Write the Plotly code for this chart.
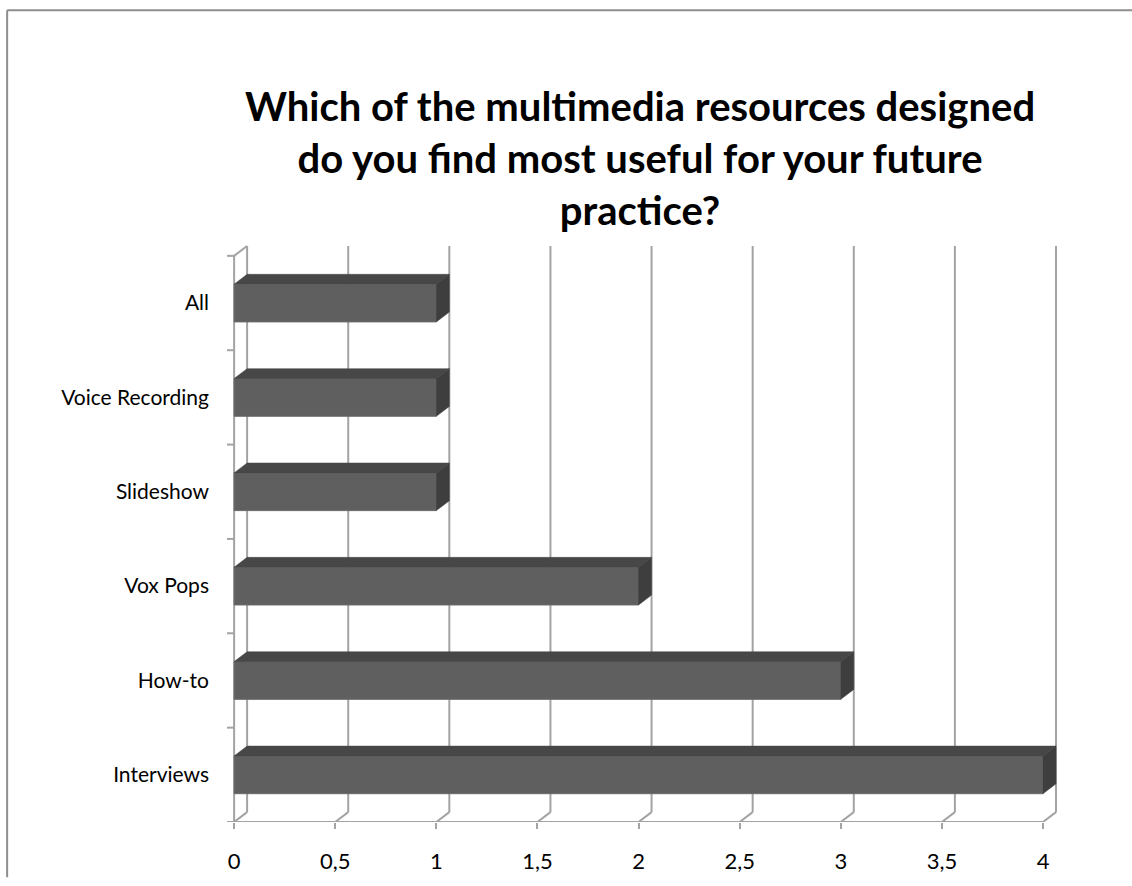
import plotly.graph_objects as go

# Survey responses
categories = ["Interviews", "How-to", "Vox Pops", "Slideshow", "Voice Recording", "All"]
counts = [4, 3, 2, 1, 1, 1]
x_ticks = [0, 0.5, 1, 1.5, 2, 2.5, 3, 3.5, 4]
x_tick_labels = ["0", "0,5", "1", "1,5", "2", "2,5", "3", "3,5", "4"]
title_text = ("Which of the multimedia resources designed<br>"
              "do you find most useful for your future<br>practice?")

# Plot geometry (pixels) and the oblique depth used for the pseudo-3D look
W, H = 1132, 886
PX_PER_X = 202.25
X_MIN = -0.05
L = 234 + X_MIN * PX_PER_X
R = 1062
B = 830
T = 240
y_min = -0.5
y_max = 5.668
PX_PER_Y = (B - T) / (y_max - y_min)
x_max = (R - 234) / PX_PER_X
DX = 13 / PX_PER_X
DY = 10 / PX_PER_Y
BAR_W = 0.4

GRID = "#a3a3a3"
FRONT = "#5f5f5f"
TOP = "#474747"
SIDE = "#3e3e3e"
FONT = "Lato"

ypos = list(range(len(categories)))
n = len(categories)

fig = go.Figure()

# Front faces of the bars
fig.add_trace(go.Bar(
    x=counts, y=ypos, orientation="h", width=BAR_W, base=0,
    marker=dict(color=FRONT, line=dict(color="#6a6a6a", width=1)),
    hoverinfo="skip", showlegend=False,
))

# Top and side faces of each bar
for yc, v in zip(ypos, counts):
    y0, y1 = yc - BAR_W / 2, yc + BAR_W / 2
    fig.add_trace(go.Scatter(
        x=[0, v, v + DX, DX, 0], y=[y1, y1, y1 + DY, y1 + DY, y1],
        mode="lines", fill="toself", fillcolor=TOP,
        line=dict(color=TOP, width=0.5), hoverinfo="skip", showlegend=False,
    ))
    fig.add_trace(go.Scatter(
        x=[v, v + DX, v + DX, v, v], y=[y0, y0 + DY, y1 + DY, y1, y0],
        mode="lines", fill="toself", fillcolor=SIDE,
        line=dict(color=SIDE, width=0.5), hoverinfo="skip", showlegend=False,
    ))

shapes = []
line = dict(color=GRID, width=2)
lo, hi = -0.5, n - 0.5

# Back-wall gridlines with their floor diagonals
for xv in x_ticks:
    shapes.append(dict(type="line", xref="x", yref="y", x0=xv + DX, x1=xv + DX,
                       y0=lo + DY, y1=hi + DY, line=line, layer="below"))
    shapes.append(dict(type="line", xref="x", yref="y", x0=xv, x1=xv + DX,
                       y0=lo, y1=lo + DY, line=line, layer="below"))

# Left wall: front axis, top diagonal
shapes.append(dict(type="line", xref="x", yref="y", x0=0, x1=0, y0=lo, y1=hi,
                   line=line, layer="below"))
shapes.append(dict(type="line", xref="x", yref="y", x0=0, x1=DX, y0=hi, y1=hi + DY,
                   line=line, layer="below"))
# Front floor edge
shapes.append(dict(type="line", xref="x", yref="y", x0=X_MIN * 0.7, x1=x_ticks[-1],
                   y0=lo, y1=lo, line=line, layer="below"))
# Category boundary ticks
for k in range(n + 1):
    yb = lo + k
    shapes.append(dict(type="line", xref="x", yref="y", x0=X_MIN * 0.7, x1=0,
                       y0=yb, y1=yb, line=line, layer="below"))

# Chart frame (left and top edges)
def px_x(p):
    return (p - L) / (R - L)

def px_y(p):
    return (B - p) / (B - T)

frame = dict(color="#8e8e8e", width=2)
shapes.append(dict(type="line", xref="paper", yref="paper", x0=px_x(7), x1=px_x(7),
                   y0=px_y(7), y1=px_y(H), line=frame))
shapes.append(dict(type="line", xref="paper", yref="paper", x0=px_x(7), x1=px_x(W),
                   y0=px_y(7), y1=px_y(7), line=frame))

fig.update_layout(
    width=W, height=H,
    margin=dict(l=L, r=W - R, t=T, b=H - B, pad=0),
    paper_bgcolor="white", plot_bgcolor="white",
    shapes=shapes,
    showlegend=False,
    font=dict(family=FONT, color="#000000", size=20),
    annotations=[dict(
        text=title_text, xref="paper", yref="paper",
        x=px_x(640), y=px_y(157), xanchor="center", yanchor="middle",
        showarrow=False, font=dict(family=FONT, size=40, color="#000000", weight="bold"),
    )],
    xaxis=dict(
        range=[X_MIN, x_max], tickvals=x_ticks, ticktext=x_tick_labels,
        showgrid=False, zeroline=False, showline=False,
        ticks="outside", ticklen=6, tickwidth=2, tickcolor=GRID,
        ticklabelstandoff=14, tickfont=dict(size=22),
    ),
    yaxis=dict(
        range=[y_min, y_max], tickvals=ypos, ticktext=categories,
        showgrid=False, zeroline=False, showline=False, ticks="",
        ticklabelstandoff=14, tickfont=dict(size=21),
    ),
)

fig.write_html("out.html")
